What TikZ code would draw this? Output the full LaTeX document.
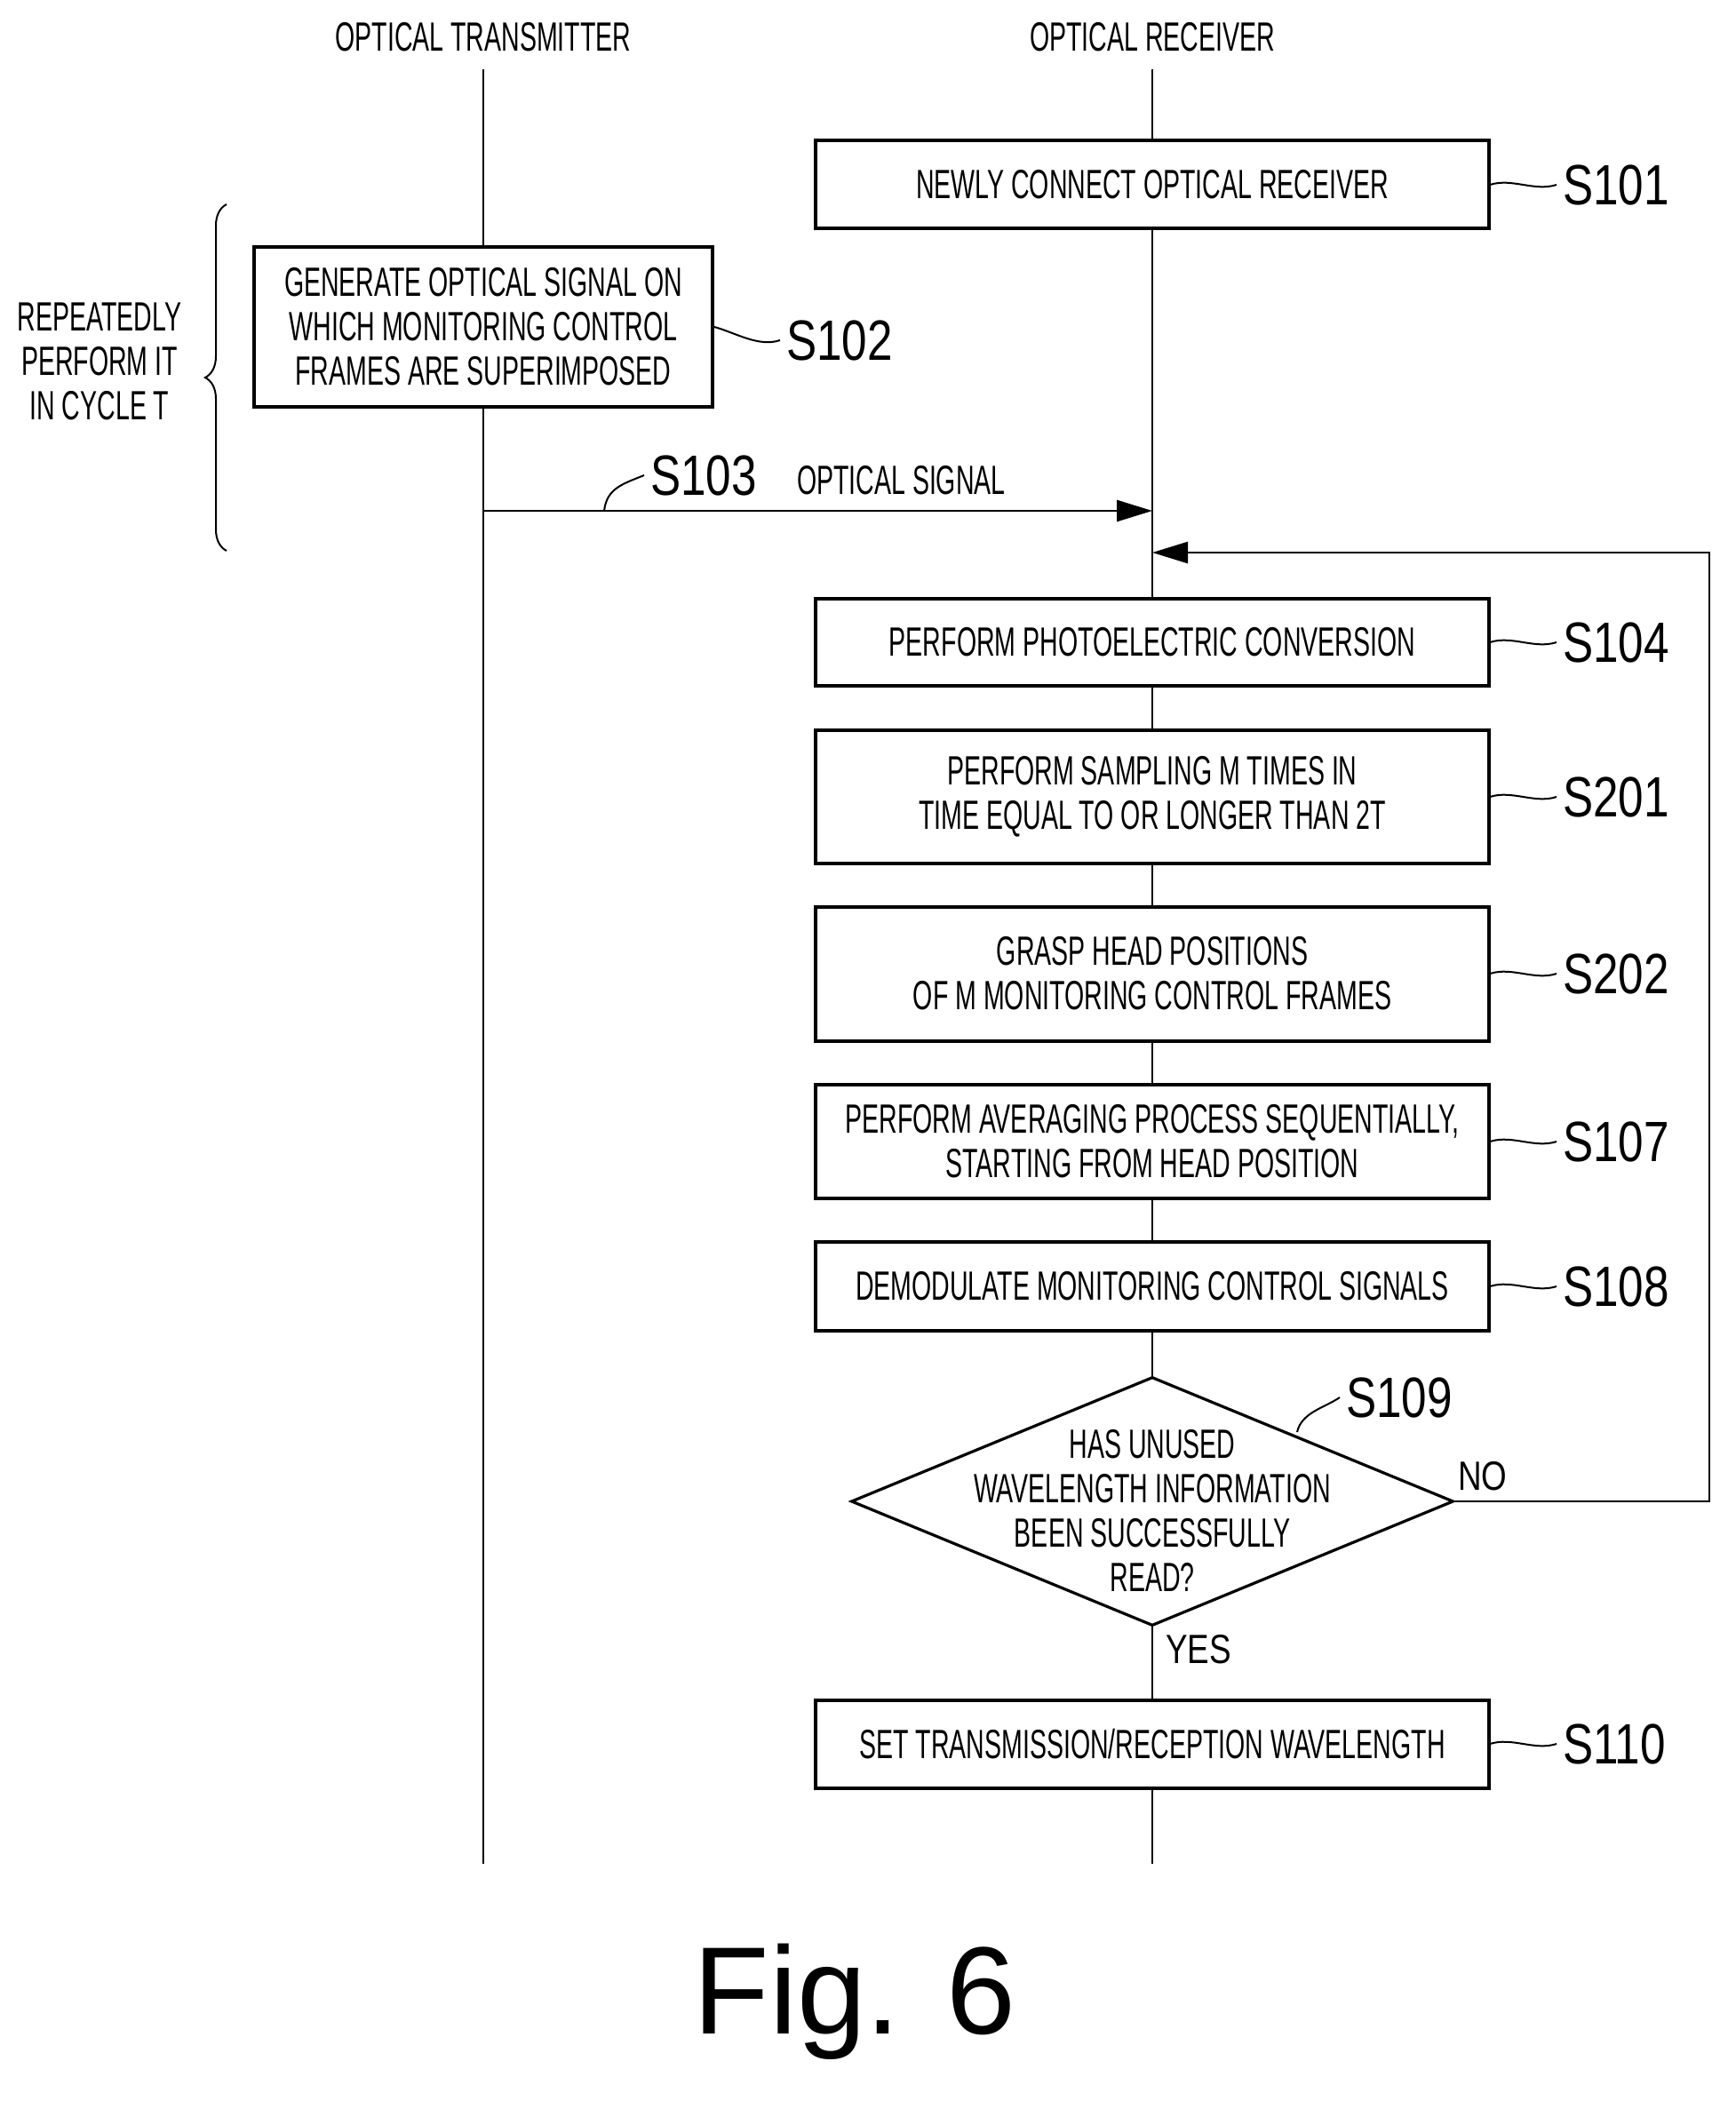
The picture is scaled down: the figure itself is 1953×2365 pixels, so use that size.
\documentclass[tikz,border=0pt]{standalone}
\usepackage{fontspec}
\setmainfont{Liberation Sans}
\newfontfamily\cond[FakeStretch=0.62]{Liberation Sans}
\newfontfamily\lab[FakeStretch=0.8]{Liberation Sans}
\usetikzlibrary{shapes.geometric,arrows.meta,decorations.pathreplacing}
\begin{document}
\begin{tikzpicture}[x=0.5pt,y=-0.5pt,
 box/.style={draw,fill=white,line width=2pt,minimum width=379pt,align=center,font=\cond\fontsize{23}{25}\selectfont,inner sep=0pt},
 sl/.style={font=\lab\fontsize{32}{32}\selectfont,anchor=west},
 txt/.style={font=\cond\fontsize{23}{25}\selectfont,align=center},
 life/.style={line width=1pt},
 conn/.style={line width=1.3pt},
 tl/.style={line width=1pt}]
\useasboundingbox (0,0) rectangle (1953,2365);
\node[txt] (ht) at (544,42) {OPTICAL TRANSMITTER};
\node[txt] (hr) at (1297,42) {OPTICAL RECEIVER};
\coordinate (t0) at (544,78); \coordinate (t1) at (544,2098);
\coordinate (r0) at (1297,78); \coordinate (r1) at (1297,2098);
\draw[life] (t0)--(t1);
\draw[life] (r0)--(r1);
\newcommand\bx[4]{\node[box,minimum height=#3*0.5pt] (#1) at (1297,#2) {#4};}
\bx{s101}{208}{99}{NEWLY CONNECT OPTICAL RECEIVER}
\node[box,minimum width=258pt,minimum height=90pt] (s102) at (544,368) {GENERATE OPTICAL SIGNAL ON\\WHICH MONITORING CONTROL\\FRAMES ARE SUPERIMPOSED};
\bx{s104}{723}{98}{PERFORM PHOTOELECTRIC CONVERSION}
\bx{s201}{897}{150}{PERFORM SAMPLING M TIMES IN\\TIME EQUAL TO OR LONGER THAN 2T}
\bx{s202}{1096}{151}{GRASP HEAD POSITIONS\\OF M MONITORING CONTROL FRAMES}
\bx{s107}{1285}{128}{PERFORM AVERAGING PROCESS SEQUENTIALLY,\\STARTING FROM HEAD POSITION}
\bx{s108}{1448}{100}{DEMODULATE MONITORING CONTROL SIGNALS}
\node[diamond,draw,fill=white,line width=1.6pt,minimum width=339pt,minimum height=140pt,inner sep=0pt,aspect=2.4] (s109) at (1297,1690) {};
\node[txt] (s109t) at (1297,1700) {HAS UNUSED\\WAVELENGTH INFORMATION\\BEEN SUCCESSFULLY\\READ?};
\bx{s110}{1963}{99}{SET TRANSMISSION/RECEPTION WAVELENGTH}
% labels
\newcommand\stp[3]{\node[sl] (#1) at (1752,#2) {#3};
 \draw[tl] (1677,#2) .. controls (1702,#2-8) and (1727,#2+8) .. (#1.west);}
\stp{l101}{208}{S101}
\stp{l104}{723}{S104}
\stp{l201}{897}{S201}
\stp{l202}{1096}{S202}
\stp{l107}{1285}{S107}
\stp{l108}{1448}{S108}
\stp{l110}{1963}{S110}
\node[sl] (l102) at (878,383) {S102};
\draw[tl] (s102.east) .. controls (829,375) and (854,391) .. (l102.west);
\node[sl] (l109) at (1508,1573) {S109};
\draw[tl] (1460,1612) .. controls (1465,1590) and (1490,1585) .. (l109.west);
% S103
\coordinate (a103) at (544,575);
\node[sl] (l103) at (725,535) {S103};
\node[txt,anchor=west] (os) at (890,541) {OPTICAL SIGNAL};
\draw[conn,-{Triangle[length=20pt,width=12pt]}] (a103) -- (a103-|r0);
\draw[tl] (680,575) .. controls (683,550) and (700,545) .. (l103.west);
% feedback
\coordinate (fb) at (1924,622);
\draw[conn,-{Triangle[length=20pt,width=12pt]}] (s109.east) -- (s109.east-|fb) -- (fb) -- (fb-|r0);
\node[txt,font=\lab\fontsize{23}{23}\selectfont,anchor=south west] (no) at (1634,1685) {NO};
\node[txt,font=\lab\fontsize{23}{23}\selectfont,anchor=north west] (yes) at (1305,1833) {YES};
% brace
\coordinate (b0) at (255,230); \coordinate (b1) at (255,620);
\draw[line width=1pt,decorate,decoration={brace,amplitude=12pt}] (b1) -- (b0);
\node[txt] (rep) at (112,407) {REPEATEDLY\\PERFORM IT\\IN CYCLE T};
\node[font=\fontsize{70}{70}\selectfont] (fig) at (962,2253) {Fig. 6};
\end{tikzpicture}
\end{document}
